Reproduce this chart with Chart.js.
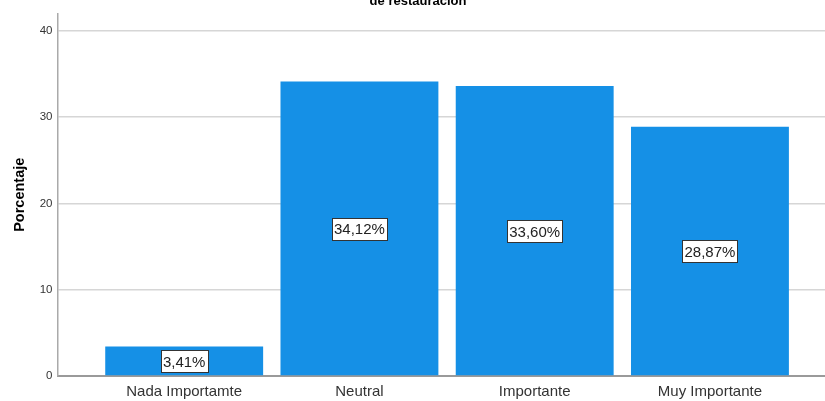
<!DOCTYPE html>
<html>
<head>
<meta charset="utf-8">
<script src="https://cdn.jsdelivr.net/npm/chart.js@4.4.0/dist/chart.umd.min.js"></script>
<style>
  html, body { margin: 0; padding: 0; background: #fff; overflow: hidden; }
  #wrap { position: relative; width: 825px; height: 401px; overflow: hidden; }
  /* the first title line sits above the visible frame */
  #box { position: absolute; left: 0; top: -12px; width: 825px; height: 413px; }
</style>
</head>
<body>
<div id="wrap"><div id="box"><canvas id="chart"></canvas></div></div>
<script>
const categories = ['Nada Importamte', 'Neutral', 'Importante', 'Muy Importante'];
const percentages = [3.41, 34.12, 33.60, 28.87];
const yTicks = [0, 10, 20, 30, 40];
const titleLines = ['de restauración'];
const yTitle = 'Porcentaje';

const barColor = '#1590e6';
const FONT = '"Liberation Sans", Arial, sans-serif';
Chart.defaults.font.family = FONT;

// boxed percentage in the middle of every bar
const valueBoxPlugin = {
  id: 'valueBox',
  afterDatasetsDraw(chart) {
    const ctx = chart.ctx;
    const yScale = chart.scales.y;
    ctx.save();
    ctx.font = '15px ' + FONT;
    ctx.textAlign = 'center';
    ctx.textBaseline = 'middle';
    chart.getDatasetMeta(0).data.forEach((bar, i) => {
      const v = percentages[i];
      const text = v.toFixed(2).replace('.', ',') + '%';
      const x = bar.getProps(['x'], true).x;
      const yMid = yScale.getPixelForValue(v / 2);
      const w = Math.round(ctx.measureText(text).width + 4);
      const h = 22;
      const left = Math.round(x - w / 2) + 0.5;
      const top = Math.round(yMid - h / 2) + 0.5;
      ctx.fillStyle = '#fff';
      ctx.fillRect(left, top, w, h);
      ctx.strokeStyle = '#333';
      ctx.lineWidth = 1;
      ctx.strokeRect(left, top, w, h);
      ctx.fillStyle = '#222';
      ctx.fillText(text, x, yMid + 1.5);
    });
    ctx.restore();
  }
};

const ctx = document.getElementById('chart').getContext('2d');
new Chart(ctx, {
  type: 'bar',
  data: {
    datasets: [{
      data: percentages.map((v, i) => ({ x: i + 1, y: v })),
      backgroundColor: barColor,
      borderWidth: 0,
      barPercentage: 0.901,
      categoryPercentage: 1
    }]
  },
  options: {
    animation: false,
    responsive: true,
    maintainAspectRatio: false,
    layout: { padding: { left: 11, right: 0, top: 0, bottom: 0 } },
    plugins: {
      legend: { display: false },
      tooltip: { enabled: false },
      title: {
        display: true,
        text: titleLines,
        color: '#000',
        font: { size: 13, weight: 'bold' },
        padding: { top: 6, bottom: 3.9 }
      }
    },
    scales: {
      x: {
        type: 'linear',
        offset: false,
        min: 0.28,
        max: 4.6565,
        afterBuildTicks: (s) => { s.ticks = categories.map((c, i) => ({ value: i + 1 })); },
        afterFit: (s) => { s.height = 25; },
        grid: { display: false, drawTicks: false, offset: false },
        border: { display: true, color: '#9a9a9a', width: 2 },
        ticks: {
          autoSkip: false,
          maxRotation: 0,
          padding: 7,
          color: '#333',
          font: { size: 15 },
          callback: (v) => categories[v - 1] || ''
        }
      },
      y: {
        min: 0,
        max: 42,
        afterBuildTicks: (s) => { s.ticks = yTicks.map((v) => ({ value: v })); },
        afterFit: (s) => { s.width = 47; },
        grid: { color: '#d6d6d6', lineWidth: 1.5, drawTicks: false },
        border: { display: true, color: '#aaaaaa', width: 1.5 },
        ticks: { padding: 5.5, color: '#333', font: { size: 11.5 } },
        title: {
          display: true,
          text: yTitle,
          color: '#000',
          font: { size: 14.5, weight: 'bold' },
          padding: { top: 0, bottom: 0 }
        }
      }
    }
  },
  plugins: [valueBoxPlugin]
});
</script>
</body>
</html>
